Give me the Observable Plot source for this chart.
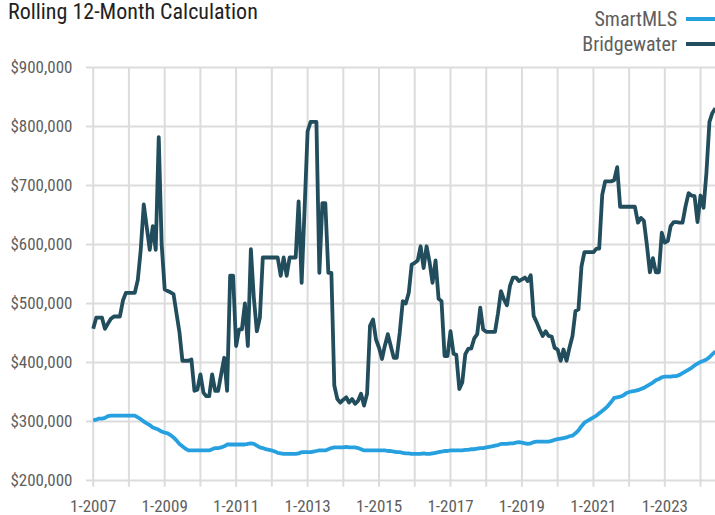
<!DOCTYPE html>
<html>
<head>
<meta charset="utf-8">
<script src="https://cdn.jsdelivr.net/npm/d3@7"></script>
<script src="https://cdn.jsdelivr.net/npm/@observablehq/plot@0.6"></script>
<style>
  body { margin: 0; background: #fff; }
  #wrap { position: relative; width: 715px; height: 515px; overflow: hidden;
          font-family: "Liberation Sans Narrow", "Arial Narrow", "Roboto Condensed", sans-serif; }
  #title { position: absolute; left: 8px; top: -1px; font-size: 22px; color: #222; line-height: 26px; white-space: nowrap; }
  .leg { position: absolute; right: 38px; font-size: 20px; color: #5e5e5e; line-height: 22px; white-space: nowrap; }
  .sw { position: absolute; left: 686px; width: 29px; height: 4px; }
  #chart { position: absolute; left: 0; top: 0; }
</style>
</head>
<body>
<div id="wrap">
  <div id="chart"></div>
  <div id="title">Rolling 12-Month Calculation</div>
  <div class="leg" style="top:8px">SmartMLS</div>
  <div class="sw" style="top:17px;background:#27a0e0"></div>
  <div class="leg" style="top:33px">Bridgewater</div>
  <div class="sw" style="top:42px;background:#214d5c"></div>
</div>
<script>
// Monthly periods: Jan 2007 through Jun 2024
const months = d3.utcMonth.range(new Date(Date.UTC(2007, 0, 1)), new Date(Date.UTC(2024, 6, 1)));

// Rolling 12-month median price, thousands of dollars
const smartMLS = [
  302,303,305,305,306,309,310,310,310,310, 310,310,310,310,310,307,304,300,297,294,
  290,288,286,283,281,280,277,273,268,262, 258,254,251,251,251,251,251,251,251,251,
  253,255,255,256,258,261,261,261,261,261, 261,261,262,263,262,259,256,255,253,252,
  251,249,247,246,245,245,245,245,245,246, 248,248,248,248,249,250,251,251,251,253,
  255,256,256,256,256,257,256,256,256,255, 253,251,251,251,251,251,251,251,251,250,
  250,249,248,248,247,246,246,245,245,245, 245,246,245,245,246,247,248,249,250,250,
  251,251,251,251,251,252,252,253,253,254, 255,255,256,257,258,259,260,262,262,262,
  263,263,264,265,264,263,262,263,265,266, 266,266,266,266,267,269,270,271,272,273,
  275,276,280,285,292,298,301,304,307,310, 314,318,322,327,333,340,341,342,344,348,
  350,351,352,353,355,357,360,363,366,370, 372,375,376,376,376,377,377,379,382,385,
  388,391,395,398,401,403,405,409,414,419
];

const bridgewater = [
  457,476,476,476,457,466,474,478,478,478, 505,518,518,518,518,540,591,668,630,591,
  631,591,782,600,524,521,519,516,484,451, 403,403,403,405,352,354,380,349,343,343,
  380,352,352,380,408,352,547,547,428,456, 456,500,428,592,510,453,476,578,578,578,
  578,578,578,547,578,547,578,578,578,673, 535,660,792,808,808,808,552,670,670,552,
  552,361,338,332,337,341,332,338,330,335, 347,327,347,462,473,439,425,406,428,448,
  428,408,408,451,504,500,518,566,569,573, 597,560,597,570,535,573,508,504,411,411,
  453,415,413,355,366,414,423,424,441,448, 493,456,452,452,452,452,483,521,507,497,
  530,544,544,538,541,544,538,548,479,468, 456,445,453,445,444,425,422,403,422,403,
  425,445,487,490,563,587,587,587,587,593, 593,684,707,707,707,709,731,664,664,664,
  664,664,664,637,645,640,600,553,577,553, 553,620,603,606,631,638,638,637,637,665,
  687,683,682,638,683,662,721,808,823,831
];

const seriesNames = ["SmartMLS", "Bridgewater"];
const seriesColors = ["#27a0e0", "#214d5c"];
const yTicks = [200000, 300000, 400000, 500000, 600000, 700000, 800000, 900000];
const gridYears = d3.utcYear.range(new Date(Date.UTC(2007, 0, 1)), new Date(Date.UTC(2025, 0, 1)));
const labelYears = gridYears.filter(d => (d.getUTCFullYear() - 2007) % 2 === 0);

const rows = [];
months.forEach((m, i) => {
  rows.push({date: m, value: smartMLS[i] * 1000, series: seriesNames[0]});
  rows.push({date: m, value: bridgewater[i] * 1000, series: seriesNames[1]});
});

const chart = Plot.plot({
  width: 715,
  height: 515,
  marginLeft: 86,
  marginRight: 0,
  marginTop: 67,
  marginBottom: 35,
  style: {fontFamily: '"Liberation Sans Narrow", "Arial Narrow", "Roboto Condensed", sans-serif', background: "#fff", overflow: "visible"},
  x: {type: "utc", domain: [new Date(Date.UTC(2006, 9, 24, 12)), new Date(Date.UTC(2024, 5, 2))]},
  y: {domain: [200000, 900000]},
  color: {domain: seriesNames, range: seriesColors},
  marks: [
    Plot.ruleY(yTicks, {stroke: "#dcdcdc", strokeWidth: 2, strokeOpacity: 1}),
    Plot.ruleX(gridYears, {x: d => d, y1: 900000, y2: 188500, stroke: "#dcdcdc", strokeWidth: 2, strokeOpacity: 1}),
    Plot.lineY(rows, {x: "date", y: "value", z: "series", stroke: "series", strokeWidth: 3.8, strokeLinejoin: "round", strokeLinecap: "butt"}),
    Plot.axisY(yTicks, {tickSize: 0, tickPadding: 14, tickFormat: d3.format("$,"), fontSize: 17, fill: "#5e5e5e", label: null}),
    Plot.axisX(labelYears, {tickSize: 0, tickPadding: 19, tickFormat: d => `1-${d.getUTCFullYear()}`, fontSize: 17, fill: "#5e5e5e", label: null})
  ]
});
document.getElementById("chart").appendChild(chart);
</script>
</body>
</html>
